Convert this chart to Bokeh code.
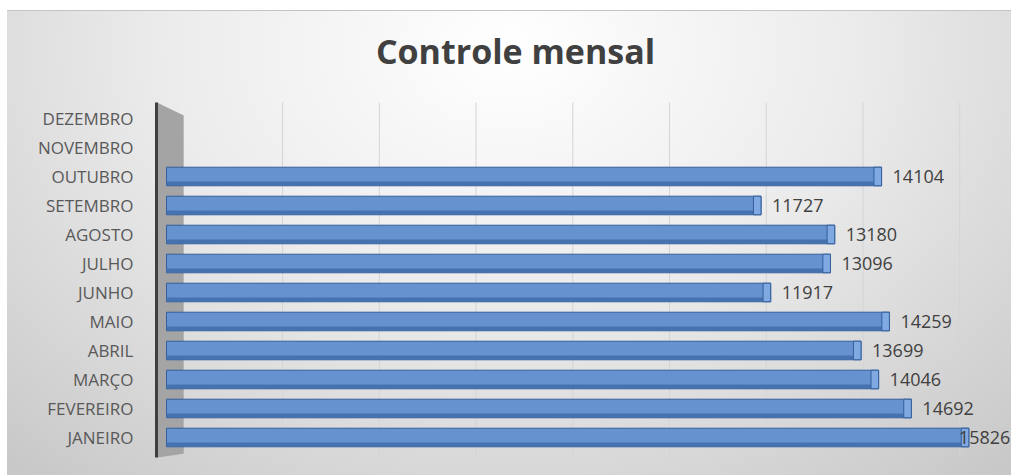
from bokeh.plotting import figure
from bokeh.models import (ColumnDataSource, Range1d, FixedTicker, LabelSet,
                          PolyAnnotation, Label)
from bokeh.embed import file_html
from bokeh.core.properties import value
from bokeh.resources import INLINE

# ---- data ----
months = ["JANEIRO", "FEVEREIRO", "MARÇO", "ABRIL", "MAIO", "JUNHO",
          "JULHO", "AGOSTO", "SETEMBRO", "OUTUBRO", "NOVEMBRO", "DEZEMBRO"]
values = [15826, 14692, 14046, 13699, 14259, 11917, 13096, 13180, 11727, 14104]
title_text = "Controle mensal"
grid_values = [2290, 4198, 6106, 8014, 9922, 11830, 13738, 15646]

# ---- layout constants ----
W, H = 1004, 465
LEFT, BOTTOM = 149, 19
ROW_PX = 29.0
X0, X1 = -197, 16667
Y0 = -0.69                 # bottom of the plot area
YTOP = 11.55               # top of the category area (axis top)
YMAX = Y0 + (H - BOTTOM) / ROW_PX   # frame extends up to the figure top

# ---- sources ----
pos = list(range(len(values)))
vmax = max(values)
src = ColumnDataSource(dict(
    y=pos,
    v=values,
    cap_left=[v - 150 for v in values],
    y_low=[i - 0.235 for i in pos],
    label=[str(v) for v in values],
    off=[-10 if v == vmax else 11 for v in values],
))
grid_src = ColumnDataSource(dict(x=grid_values))

p = figure(width=W, height=H, output_backend="svg", toolbar_location=None,
           x_range=Range1d(X0, X1), y_range=Range1d(Y0, YMAX),
           min_border_left=LEFT, min_border_right=0,
           min_border_top=0, min_border_bottom=BOTTOM)

p.styles = {"background": "radial-gradient(ellipse 75% 120% at 50% 8%, #ffffff 0%, #ececec 45%, #d2d2d2 85%, #c8c8c8 100%)",
            "border-top": "1px solid #c4c4c4",
            "margin-top": "10px",
            "margin-left": "7px"}
p.border_fill_alpha = 0
p.background_fill_alpha = 0
p.outline_line_color = None

# axes
p.xaxis.visible = False
p.yaxis.bounds = (Y0, YTOP)
p.yaxis.ticker = FixedTicker(ticks=list(range(len(months))))
p.yaxis.major_label_overrides = {i: m for i, m in enumerate(months)}
p.yaxis.major_label_text_font = "Open Sans"
p.yaxis.major_label_text_font_size = "17px"
p.yaxis.major_label_text_color = "#595959"
p.yaxis.major_tick_line_color = None
p.yaxis.minor_tick_line_color = None
p.yaxis.major_label_standoff = 17
p.yaxis.axis_line_width = 3
p.yaxis.axis_line_color = "#3f3f3f"

p.xgrid.visible = False
p.ygrid.visible = False

# side wall
wall = PolyAnnotation(xs=[X0, 335, 335, X0], ys=[YTOP, 11.1, -0.55, Y0],
                      fill_color="#a4a4a4", fill_alpha=1, line_color="#9a9a9a",
                      level="underlay")
p.add_layout(wall)

# back-wall grid lines
p.segment(x0="x", y0=Y0, x1="x", y1=YTOP, source=grid_src,
          line_color="#d4d4d4", line_width=1)

# title, centred above the plot area
title = Label(x=X0 + (508 - LEFT) / (W - LEFT) * (X1 - X0),
              y=YTOP + 52 / ROW_PX,
              text=title_text, text_align="center", text_baseline="middle",
              text_font="Open Sans", text_font_style="bold",
              text_font_size="34px", text_color="#404040")
p.add_layout(title)

# bars
p.hbar(y="y", left=0, right="v", height=0.64, source=src,
       fill_color="#6693d0", line_color="#335f9c", line_width=1)
p.hbar(y="y_low", left=0, right="v", height=0.13, source=src,
       fill_color="#4673b0", line_color=None)
p.hbar(y="y", left="cap_left", right="v", height=0.64, source=src,
       fill_color="#7fa9e0", line_color="#335f9c", line_width=1)

labels = LabelSet(x="v", y="y", text="label", source=src, x_offset="off",
                  text_baseline="middle", text_font=value("Open Sans"),
                  text_font_size="18px", text_color="#404040")
p.add_layout(labels)

open("out.html", "w").write(file_html(p, INLINE))
